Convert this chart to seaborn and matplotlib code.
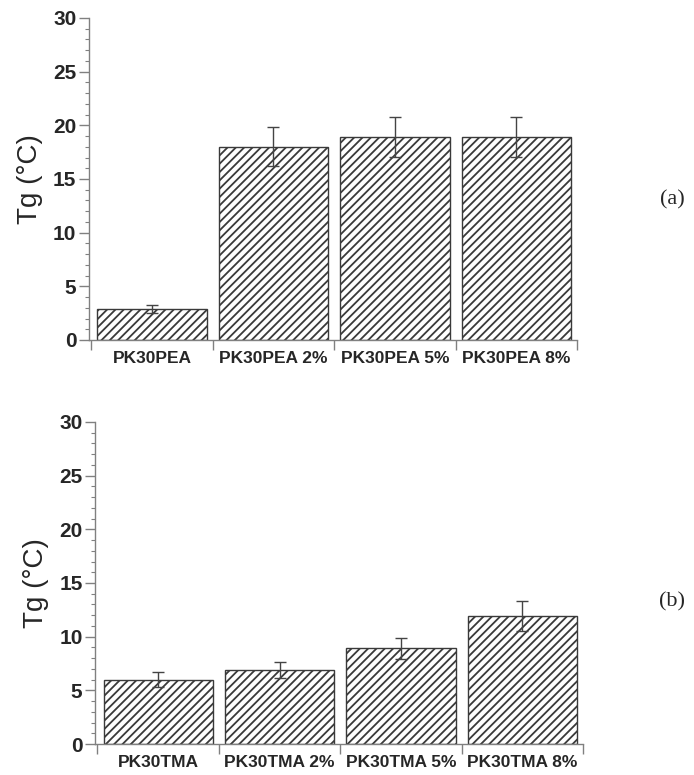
import pandas as pd
import matplotlib
matplotlib.use('Agg')
import matplotlib.pyplot as plt
import seaborn as sns
import numpy as np

# data
pea_labels = ['PK30PEA', 'PK30PEA 2%', 'PK30PEA 5%', 'PK30PEA 8%']
pea_tg = [2.9, 18.0, 18.9, 18.9]
pea_err = [0.4, 1.8, 1.85, 1.85]

tma_labels = ['PK30TMA', 'PK30TMA 2%', 'PK30TMA 5%', 'PK30TMA 8%']
tma_tg = [6.0, 6.9, 8.9, 11.9]
tma_err = [0.7, 0.75, 1.0, 1.4]

sns.set_style('ticks')
plt.rcParams['font.family'] = ['Liberation Sans', 'DejaVu Sans']
plt.rcParams['hatch.linewidth'] = 1.3
plt.rcParams['hatch.color'] = '#111111'

fig = plt.figure(figsize=(6.94, 7.75), dpi=100)
ax_a = fig.add_axes([0.1282, 0.5613, 0.7032, 0.4155])
ax_b = fig.add_axes([0.1369, 0.0400, 0.7032, 0.4155])


def draw_panel(ax, labels, values, errs, tag, tag_y):
    df = pd.DataFrame({'sample': labels, 'tg': values})
    sns.barplot(data=df, x='sample', y='tg', order=labels, ax=ax,
                color='white', edgecolor='#3a3a3a', linewidth=1.0,
                width=0.9, errorbar=None)
    for bar in ax.patches:
        bar.set_hatch('////')
    ax.errorbar(x=np.arange(len(labels)), y=values, yerr=errs, fmt='none',
                ecolor='#444444', elinewidth=1.0, capsize=4.5, capthick=1.0,
                zorder=5)

    ax.set_ylim(0, 30)
    ax.set_xlim(-0.52, len(labels) - 0.5)
    ax.set_yticks(np.arange(0, 31, 5))
    ax.set_yticks(np.arange(0, 31, 1), minor=True)
    ax.set_yticklabels([str(v) for v in range(0, 31, 5)],
                       fontsize=15, fontweight='bold')

    # category boundaries get the ticks, centres get the labels
    ax.set_xticks(np.arange(-0.5, len(labels), 1.0))
    ax.set_xticklabels([])
    ax.set_xticks(np.arange(len(labels)), minor=True)
    ax.set_xticklabels(labels, minor=True, fontsize=12.5, fontweight='bold')
    ax.tick_params(axis='x', which='major', direction='out', length=7,
                   width=1, color='#808080')
    ax.tick_params(axis='x', which='minor', length=0, pad=8)
    ax.tick_params(axis='y', which='major', direction='out', length=7,
                   width=1, color='#808080', pad=2)
    ax.tick_params(axis='y', which='minor', direction='out', length=3,
                   width=0.8, color='#808080')

    ax.set_xlabel('')
    ax.set_ylabel('Tg (°C)', fontsize=20)
    ax.yaxis.set_label_coords(-0.094, 0.5)

    sns.despine(ax=ax)
    for side in ['left', 'bottom']:
        ax.spines[side].set_color('#808080')
        ax.spines[side].set_linewidth(1.0)

    fig.text(672 / 694, tag_y, tag, fontsize=16, family='Liberation Serif',
             ha='center', va='center')


draw_panel(ax_a, pea_labels, pea_tg, pea_err, '(a)', 1 - 200 / 775)
draw_panel(ax_b, tma_labels, tma_tg, tma_err, '(b)', 1 - 602 / 775)

fig.savefig('out.png', dpi=100)
